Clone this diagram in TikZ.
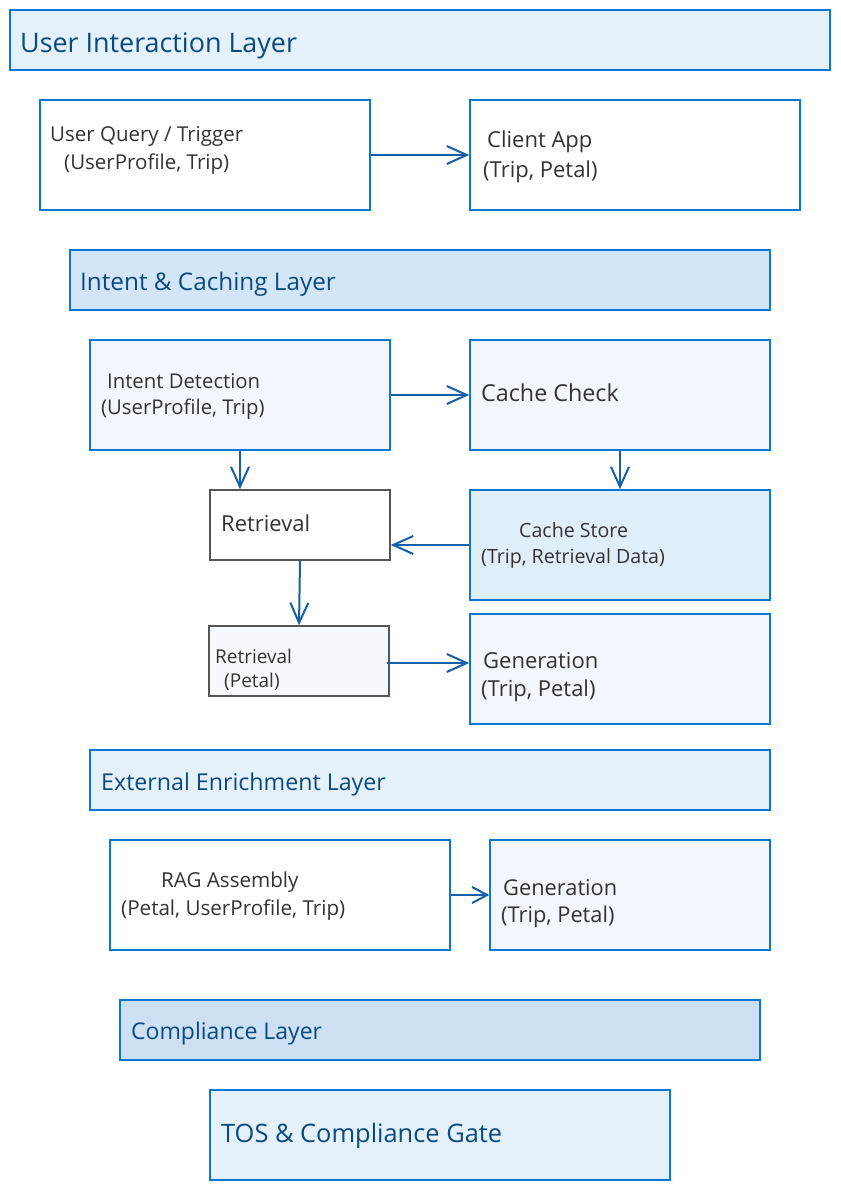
\documentclass[tikz,border=0pt]{standalone}
\usepackage{fontspec}
\setmainfont{Open Sans}
\usetikzlibrary{arrows.meta}
\definecolor{boxblue}{HTML}{0A78D2}
\definecolor{headtext}{HTML}{0B4A7E}
\definecolor{bodytext}{HTML}{333333}
\definecolor{arrowblue}{HTML}{1560A8}
\definecolor{boxgrey}{HTML}{555555}
\definecolor{fillA}{HTML}{E4F0FA}
\definecolor{fillB}{HTML}{D3E6F7}
\definecolor{fillC}{HTML}{CCE0F4}
\definecolor{fillD}{HTML}{F1F7FC}
\definecolor{fillE}{HTML}{E0EEFA}
\definecolor{fillF}{HTML}{F5F9FD}

\begin{document}
\begin{tikzpicture}[x=1pt,y=-1pt,
		box/.style={draw=boxblue,line width=1.6pt,rectangle,inner sep=0pt},
		greybox/.style={draw=boxgrey,line width=1.6pt,rectangle,inner sep=0pt},
		head/.style={anchor=west,inner sep=0pt,text=headtext},
		txt/.style={anchor=west,inner sep=0pt,text=bodytext},
		arr/.style={draw=arrowblue,line width=2pt,-{Straight Barb[length=20pt,width=18pt,line width=2pt]}},
		sarr/.style={draw=arrowblue,line width=2pt,-{Straight Barb[length=15pt,width=16pt,line width=2pt]}}]
	
	\useasboundingbox[fill=white] (0,0) rectangle (840,1190);
	
	% user interaction layer
	\node[box,fill=fillA,minimum width=820,minimum height=60] (layA) at (420,40) {};
	\node[head,font=\fontsize{26.9}{30}\selectfont] (layAt) at (20,46) {User Interaction Layer};
	
	\node[box,fill=white,minimum width=330,minimum height=110] (query) at (205,155) {};
	\node[txt,font=\fontsize{20.5}{23}\selectfont] (queryA) at (50,136) {User Query / Trigger};
	\node[txt,font=\fontsize{20.5}{23}\selectfont] (queryB) at (64,164) {(UserProfile, Trip)};
	
	\node[box,fill=white,minimum width=330,minimum height=110] (app) at (635,155) {};
	\node[txt,font=\fontsize{22}{25}\selectfont] (appA) at (487,142) {Client App};
	\node[txt,font=\fontsize{22}{25}\selectfont] (appB) at (483,172) {(Trip, Petal)};
	
	\draw[arr] (query.east) -- (app.west);
	
	% intent and caching layer
	\node[box,fill=fillB,minimum width=700,minimum height=60] (layB) at (420,280) {};
	\node[head,font=\fontsize{24.3}{27}\selectfont] (layBt) at (80,284) {Intent \& Caching Layer};
	
	\node[box,fill=fillD,minimum width=300,minimum height=110] (intent) at (240,395) {};
	\node[txt,font=\fontsize{20.3}{23}\selectfont] (intentA) at (107,381) {Intent Detection};
	\node[txt,font=\fontsize{20.3}{23}\selectfont] (intentB) at (101,409) {(UserProfile, Trip)};
	
	\node[box,fill=fillD,minimum width=300,minimum height=110] (check) at (620,395) {};
	\node[txt,font=\fontsize{23.3}{26}\selectfont] (checkA) at (481,393) {Cache Check};
	
	\node[greybox,fill=white,minimum width=180,minimum height=70] (retr) at (300,525) {};
	\node[txt,font=\fontsize{22}{25}\selectfont] (retrA) at (221,523) {Retrieval};
	
	\node[box,fill=fillE,minimum width=300,minimum height=110] (store) at (620,545) {};
	\node[txt,font=\fontsize{19.6}{22}\selectfont] (storeA) at (519,530) {Cache Store};
	\node[txt,font=\fontsize{19.6}{22}\selectfont] (storeB) at (481,558) {(Trip, Retrieval Data)};
	
	\node[greybox,fill=fillF,minimum width=180,minimum height=70] (petal) at (299,661) {};
	\node[txt,font=\fontsize{19}{21}\selectfont] (petalA) at (215,656) {Retrieval};
	\node[txt,font=\fontsize{19}{21}\selectfont] (petalB) at (224,682) {(Petal)};
	
	\node[box,fill=fillD,minimum width=300,minimum height=110] (gen) at (620,669) {};
	\node[txt,font=\fontsize{22}{25}\selectfont] (genA) at (483,661) {Generation};
	\node[txt,font=\fontsize{22}{25}\selectfont] (genB) at (481,691) {(Trip, Petal)};
	
	\draw[arr] (intent.east) -- (check.west);
	\draw[arr] (intent.south) -- (intent.south |- retr.north);
	\draw[arr] (check.south) -- (store.north);
	\draw[arr] (store.west) -- (store.west -| retr.east);
	\draw[arr] (retr.south) -- (petal.north);
	\draw[arr] ([xshift=-3pt,yshift=-2pt]petal.east) -- ([yshift=-2pt]petal.east -| gen.west);
	
	% external enrichment layer
	\node[box,fill=fillA,minimum width=680,minimum height=60] (layC) at (430,780) {};
	\node[head,font=\fontsize{23.2}{26}\selectfont] (layCt) at (101,784) {External Enrichment Layer};
	
	\node[box,fill=white,minimum width=340,minimum height=110] (rag) at (280,895) {};
	\node[txt,font=\fontsize{20.6}{23}\selectfont] (ragA) at (161,882) {RAG Assembly};
	\node[txt,font=\fontsize{20.6}{23}\selectfont] (ragB) at (121,910) {(Petal, UserProfile, Trip)};
	
	\node[box,fill=fillD,minimum width=280,minimum height=110] (gen2) at (630,895) {};
	\node[txt,font=\fontsize{21.8}{24}\selectfont] (gen2A) at (503,888) {Generation};
	\node[txt,font=\fontsize{21.8}{24}\selectfont] (gen2B) at (501,917) {(Trip, Petal)};
	
	\draw[sarr] (rag.east) -- (gen2.west);
	
	% compliance layer
	\node[box,fill=fillC,minimum width=640,minimum height=60] (layD) at (440,1030) {};
	\node[head,font=\fontsize{23}{26}\selectfont] (layDt) at (131,1034) {Compliance Layer};
	
	\node[box,fill=fillA,minimum width=460,minimum height=90] (gate) at (440,1135) {};
	\node[head,font=\fontsize{25.4}{28}\selectfont] (gateA) at (221,1136) {TOS \& Compliance Gate};
	
\end{tikzpicture}
\end{document}
